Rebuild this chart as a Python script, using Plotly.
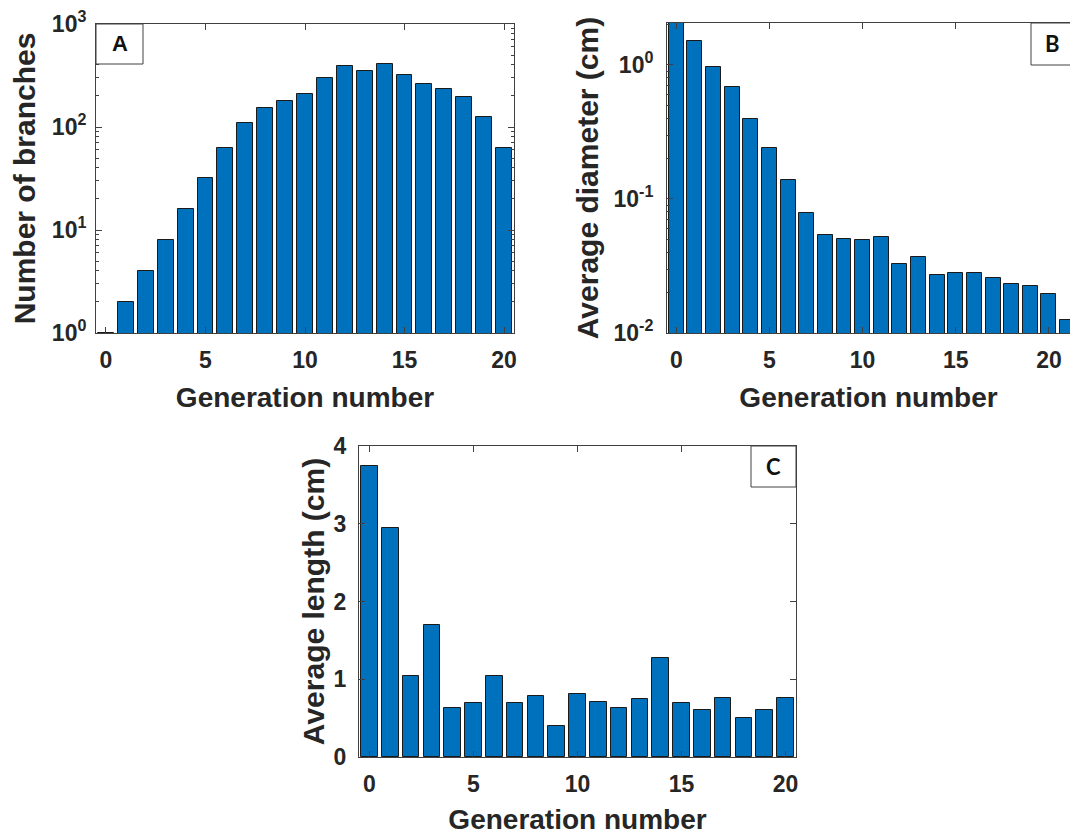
import plotly.graph_objects as go

# ---------------- data ----------------
gen_a = list(range(0, 21))
branches = [1, 2, 4, 8, 16, 32, 63, 110, 153, 177, 207, 300, 395, 353, 410, 319, 263, 235, 197, 126, 62]

gen_b = list(range(0, 22))
diameter = [2.2, 1.51, 0.966, 0.69, 0.393, 0.239, 0.139, 0.079, 0.0539, 0.0503, 0.0494, 0.0518,
            0.0329, 0.0369, 0.0271, 0.0279, 0.0279, 0.0256, 0.0233, 0.0224, 0.0195, 0.0125]

gen_c = list(range(0, 21))
length = [3.74, 2.95, 1.04, 1.70, 0.63, 0.69, 1.04, 0.69, 0.78, 0.40, 0.81, 0.71, 0.635, 0.74,
          1.27, 0.70, 0.61, 0.76, 0.50, 0.60, 0.755]

x_ticks = [0, 5, 10, 15, 20]
a_ticks = [1, 10, 100, 1000]
a_ticktext = ["10<sup>0</sup>", "10<sup>1</sup>", "10<sup>2</sup>", "10<sup>3</sup>"]
b_ticks = [0.01, 0.1, 1]
b_ticktext = ["10<sup>-2</sup>", "10<sup>-1</sup>", "10<sup>0</sup>"]
c_ticks = [0, 1, 2, 3, 4]

x_title = "Generation number"
a_title = "Number of branches"
b_title = "Average diameter (cm)"
c_title = "Average length (cm)"

# ---------------- style ----------------
W, H = 1070, 835
BAR = "#0072BD"
EDGE = "#1a1a1a"
AX = "#404040"
TXT = "#262626"
FONT = "Liberation Sans, Arial, sans-serif"

def minor_log(lo, hi):
    vals = []
    for e in range(lo, hi):
        for m in range(2, 10):
            vals.append(m * 10 ** e)
    return vals

fig = go.Figure()
bar_kw = dict(width=0.8, marker=dict(color=BAR, line=dict(color=EDGE, width=1)), showlegend=False)
fig.add_trace(go.Bar(x=gen_a, y=branches, xaxis="x", yaxis="y", **bar_kw))
fig.add_trace(go.Bar(x=gen_b, y=diameter, xaxis="x2", yaxis="y2", **bar_kw))
fig.add_trace(go.Bar(x=gen_c, y=length, xaxis="x3", yaxis="y3", **bar_kw))

tickfont = dict(family=FONT, size=23, color=TXT, weight="bold")
xtitlefont = dict(family=FONT, size=28, color=TXT, weight="bold")
ytitlefont = dict(family=FONT, size=30, color=TXT, weight="bold")

common = dict(showline=True, linecolor=AX, linewidth=1, mirror="allticks", ticks="inside",
              ticklen=6, tickcolor=AX, tickwidth=1, showgrid=False, zeroline=False,
              tickfont=tickfont, automargin=False)

def xax(domain, anchor, rng):
    d = dict(common)
    d.update(domain=domain, anchor=anchor, range=rng, tickmode="array", tickvals=x_ticks,
             title=dict(text=x_title, font=xtitlefont, standoff=15), ticklabelstandoff=6)
    return d

def yax(domain, anchor, rng, **kw):
    d = dict(common)
    d.update(domain=domain, anchor=anchor, range=rng)
    d.update(kw)
    return d

dA_x = [96 / W, 514 / W]
dA_y = [1 - 333 / H, 1 - 24 / H]
dB_x = [667 / W, 1.0]
dB_y = [1 - 333 / H, 1 - 23 / H]
dC_x = [359 / W, 796 / W]
dC_y = [1 - 757 / H, 1 - 446 / H]

fig.update_layout(
    width=W, height=H,
    margin=dict(l=0, r=0, t=0, b=0),
    paper_bgcolor="white", plot_bgcolor="white",
    bargap=0,
    xaxis=xax(dA_x, "y", [-0.5, 20.5]),
    yaxis=yax(dA_y, "x", [0, 3], type="log", tickmode="array", tickvals=a_ticks, ticktext=a_ticktext,
              title=dict(text=a_title, font=ytitlefont, standoff=7), ticklabelstandoff=4,
              minor=dict(ticks="inside", ticklen=3, tickcolor=AX, tickmode="array",
                         tickvals=minor_log(0, 3), showgrid=False)),
    xaxis2=xax(dB_x, "y2", [-0.5, 21.13]),
    yaxis2=yax(dB_y, "x2", [-2, 0.313], type="log", tickmode="array", tickvals=b_ticks, ticktext=b_ticktext,
               title=dict(text=b_title, font=ytitlefont, standoff=5), ticklabelstandoff=8,
               mirror=False,
               minor=dict(ticks="inside", ticklen=3, tickcolor=AX, tickmode="array",
                          tickvals=minor_log(-2, 1), showgrid=False)),
    xaxis3=xax(dC_x, "y3", [-0.5, 20.5]),
    yaxis3=yax(dC_y, "x3", [0, 4], tickmode="array", tickvals=c_ticks,
               title=dict(text=c_title, font=ytitlefont, standoff=0), ticklabelstandoff=7),
)

# panel label boxes
boxes = [
    ("A", 96, 24, 143, 64, 119.5, "Liberation Sans, Arial, sans-serif"),
    ("B", 1031, 23, 1075, 65, 1052, "Lato, Carlito, sans-serif"),
    ("C", 751, 446, 796, 487, 773.5, "Lato, Carlito, sans-serif"),
]
for lab, x0, y0, x1, y1, cx, fam in boxes:
    fig.add_shape(type="rect", xref="paper", yref="paper",
                  x0=x0 / W, x1=x1 / W, y0=1 - y1 / H, y1=1 - y0 / H,
                  line=dict(color=AX, width=1), fillcolor="white", layer="above")
    fig.add_annotation(text=lab, xref="paper", yref="paper", x=cx / W, y=1 - ((y0 + y1) / 2) / H,
                       showarrow=False, xanchor="center", yanchor="middle",
                       font=dict(family=fam, size=22, color="#111111", weight="bold"))

fig.write_html("out.html")
